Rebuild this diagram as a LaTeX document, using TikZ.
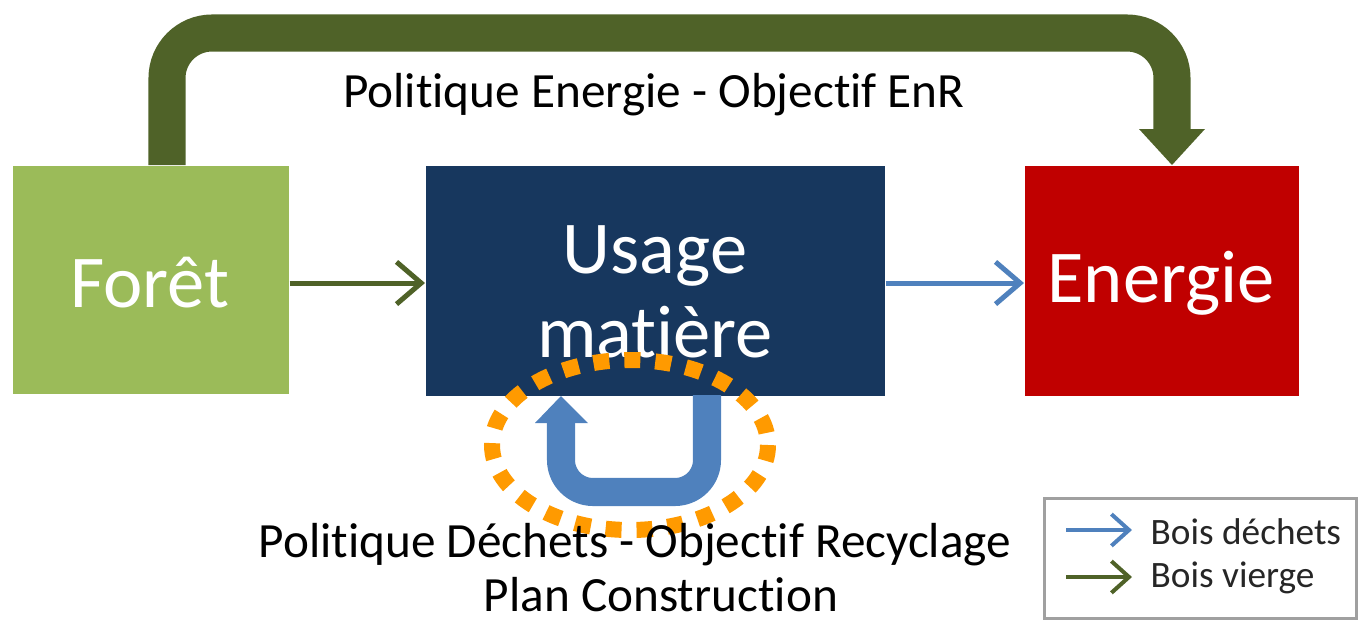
\documentclass[tikz,border=0pt]{standalone}
\usepackage{fontspec}
\setmainfont{Carlito}[RawFeature=-liga]
\usetikzlibrary{arrows.meta,calc}
\definecolor{fgreen}{HTML}{9BBB59}
\definecolor{navy}{HTML}{17375E}
\definecolor{ered}{HTML}{C00000}
\definecolor{olive}{HTML}{4F6228}
\definecolor{lblue}{HTML}{4F81BD}
\definecolor{orng}{HTML}{FF9A00}
\definecolor{lgray}{HTML}{A0A0A0}
\tikzset{
  blockbox/.style={fill=#1, draw=none, text=white, inner sep=0pt, anchor=north west},
  bigtext/.style={text=white, font=\fontsize{21.2}{25}\selectfont, align=center},
  flowarrow/.style={draw=#1, line width=5pt*0.2845, -{Straight Barb[length=7pt, width=12pt, line width=5pt*0.2845]}},
  lbl/.style={font=\fontsize{14}{17}\selectfont, text=black, align=center, inner sep=0pt},
  legtext/.style={font=\fontsize{10.6}{12}\selectfont, text=black!85, anchor=west, inner sep=0pt},
  legarrow/.style={draw=#1, line width=4*0.2845pt, -{Straight Barb[length=5pt,width=9pt,line width=4*0.2845pt]}},
}
\begin{document}
\begin{tikzpicture}[x=0.01cm,y=-0.01cm]
\useasboundingbox (0,0) rectangle (1359,624);
% boxes
\node[blockbox=fgreen, minimum width=2.76cm, minimum height=2.28cm] (foret) at (12,165) {};
\node[bigtext] (foretlbl) at (150,283) {Forêt};
\node[blockbox=navy, minimum width=4.59cm, minimum height=2.30cm] (usage) at (425,165) {};
\node[bigtext] (usagelbl) at (655,292) {Usage\\[-1pt]matière};
\node[blockbox=ered, minimum width=2.74cm, minimum height=2.30cm] (energie) at (1024,165) {};
\node[bigtext] (energielbl) at (1161,283) {Energie};
% top arrow
\coordinate (tstart) at (167,165);
\coordinate (tend) at (1172,130);
\draw[olive, line width=37*0.2845pt, rounded corners=45*0.2845pt] (tstart) -- (167,33) -- (1172,33) -- (tend);
\fill[olive] (1139,129) -- (1205,129) -- (1172,165) -- cycle;
\node[lbl] (toplbl) at (654,95) {Politique Energie - Objectif EnR};
% horizontal arrows
\draw[flowarrow=olive] (foret.east |- 0,283) -- (usage.west |- 0,283);
\draw[flowarrow=lblue] (usage.east |- 0,283) -- (energie.west |- 0,283);
% blue loop
\draw[lblue, line width=28*0.2845pt, rounded corners=32*0.2845pt] (707,395) -- (707,492) -- (561,492) -- (561,420);
\fill[lblue] (535,423) -- (588,423) -- (561,396) -- cycle;
% orange dotted ellipse
\draw[orng, line width=16*0.2845pt, dash pattern=on 16*0.2845pt off 15*0.2845pt] (630,445) ellipse [x radius=138, y radius=85];
% bottom labels
\node[lbl] (botlbl) at (635,545) {Politique Déchets - Objectif Recyclage};
\node[lbl] (botlbl2) at (661,595) {Plan Construction};
% legend
\node[draw=lgray, line width=3*0.2845pt, minimum width=3.12cm, minimum height=1.20cm, anchor=north west, inner sep=0pt] (legend) at (1043,497) {};
\coordinate (l1a) at (1066,530);
\coordinate (l1b) at (1132,530);
\coordinate (l2a) at (1066,577);
\coordinate (l2b) at (1132,577);
\draw[legarrow=lblue] (l1a) -- (l1b);
\draw[legarrow=olive] (l2a) -- (l2b);
\node[legtext] (leg1) at (1150,532) {Bois déchets};
\node[legtext] (leg2) at (1150,578) {Bois vierge};
\end{tikzpicture}
\end{document}
